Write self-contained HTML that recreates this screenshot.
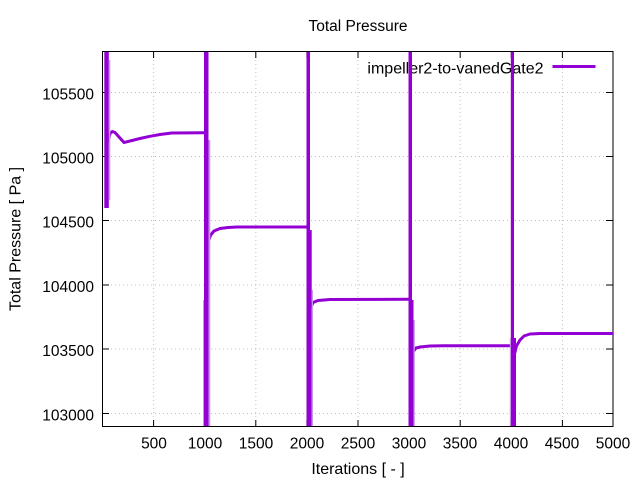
<!DOCTYPE html>
<html>
<head>
<meta charset="utf-8">
<style>
html,body{margin:0;padding:0;background:#fff;}
svg{display:block;}
text{font-family:"Liberation Sans",Arial,sans-serif;fill:#000;}
</style>
</head>
<body>
<svg width="640" height="480" viewBox="0 0 640 480" xmlns="http://www.w3.org/2000/svg">
<rect width="640" height="480" fill="#fff"/>

<!-- grid -->
<g stroke="#c0c0c0" stroke-width="1" stroke-dasharray="1 3" fill="none">
  <line x1="153.6" y1="52" x2="153.6" y2="426"/>
  <line x1="204.7" y1="52" x2="204.7" y2="426"/>
  <line x1="255.8" y1="52" x2="255.8" y2="426"/>
  <line x1="306.9" y1="52" x2="306.9" y2="426"/>
  <line x1="358" y1="52" x2="358" y2="426"/>
  <line x1="409.1" y1="52" x2="409.1" y2="426"/>
  <line x1="460.2" y1="52" x2="460.2" y2="426"/>
  <line x1="511.3" y1="52" x2="511.3" y2="426"/>
  <line x1="562.4" y1="52" x2="562.4" y2="426"/>
  <line x1="103" y1="92.5" x2="613" y2="92.5"/>
  <line x1="103" y1="156.5" x2="613" y2="156.5"/>
  <line x1="103" y1="220.5" x2="613" y2="220.5"/>
  <line x1="103" y1="285" x2="613" y2="285"/>
  <line x1="103" y1="349" x2="613" y2="349"/>
  <line x1="103" y1="413.5" x2="613" y2="413.5"/>
</g>

<!-- border -->
<rect x="102.5" y="51.5" width="510.5" height="375" fill="none" stroke="#000" stroke-width="1"/>

<!-- ticks -->
<g stroke="#000" stroke-width="1">
  <path d="M153.6 426V420M204.7 426V420M255.8 426V420M306.9 426V420M358 426V420M409.1 426V420M460.2 426V420M511.3 426V420M562.4 426V420"/>
  <path d="M153.6 52V58M204.7 52V58M255.8 52V58M306.9 52V58M358 52V58M409.1 52V58M460.2 52V58M511.3 52V58M562.4 52V58"/>
  <path d="M102.5 92.5H109M102.5 156.5H109M102.5 220.5H109M102.5 285H109M102.5 349H109M102.5 413.5H109"/>
  <path d="M613 92.5H606M613 156.5H606M613 220.5H606M613 285H606M613 349H606M613 413.5H606"/>
</g>

<!-- tick labels -->
<g font-size="15.5" text-anchor="end">
  <text x="94" y="99.5">105500</text>
  <text x="94" y="163.5">105000</text>
  <text x="94" y="227.5">104500</text>
  <text x="94" y="292">104000</text>
  <text x="94" y="356">103500</text>
  <text x="94" y="420.5">103000</text>
</g>
<g font-size="15.5" text-anchor="middle">
  <text x="154" y="448.5">500</text>
  <text x="205" y="448.5">1000</text>
  <text x="256" y="448.5">1500</text>
  <text x="307" y="448.5">2000</text>
  <text x="358" y="448.5">2500</text>
  <text x="409" y="448.5">3000</text>
  <text x="460" y="448.5">3500</text>
  <text x="511" y="448.5">4000</text>
  <text x="562" y="448.5">4500</text>
  <text x="613" y="448.5">5000</text>
</g>

<!-- titles -->
<text x="358" y="31" font-size="15.5" text-anchor="middle">Total Pressure</text>
<text x="358" y="474" font-size="16" text-anchor="middle">Iterations [ - ]</text>
<text transform="translate(20.5 239) rotate(-90)" font-size="16" text-anchor="middle">Total Pressure [ Pa ]</text>

<!-- legend -->
<text x="543.5" y="73.5" font-size="16" text-anchor="end">impeller2-to-vanedGate2</text>
<line x1="552.5" y1="66.5" x2="595.5" y2="66.5" stroke="#9400d3" stroke-width="3"/>

<!-- series -->
<g fill="none" stroke="#9400d3" stroke-width="3" stroke-linejoin="round">
  <polyline points="108,142 110,133.5 112.3,131.5 115,132.5 119,137 124,142.5 130,141 140,138.5 150,136.3 160,134.5 171.7,133 204,132.7"/>
  <polyline points="208,242 210.7,235 214,231 220,228.5 228,227.5 237,227 308,227"/>
  <polyline points="311,307 313,302.5 318,300.5 330,299.5 409,299.3"/>
  <polyline points="413,352 416,348 420,347 430,346 443,345.8 511,345.8"/>
  <polyline points="514,356 516.5,346 520,340 524,336 530,334 540,333.5 613,333.5"/>
</g>

<!-- spikes -->
<g fill="#9400d3">
  <rect x="104.3" y="52" width="4.5" height="156"/>
  <rect x="204" y="52" width="4.5" height="374"/>
  <rect x="306.5" y="52" width="3.5" height="374"/>
  <rect x="310" y="230" width="1.7" height="196"/>
  <rect x="408.5" y="52" width="3.5" height="374"/>
  <rect x="412" y="300" width="1.5" height="126"/>
  <rect x="510.8" y="52" width="3.2" height="374"/>
  <rect x="514" y="338" width="2" height="88"/>
</g>
<g fill="#c79ae8">
  <rect x="108.8" y="60" width="1.5" height="140"/>
  <rect x="208.5" y="140" width="1.8" height="286"/>
  <rect x="203" y="300" width="1" height="126"/>
  <rect x="311.7" y="290" width="1.3" height="136"/>
  <rect x="413.5" y="320" width="1.3" height="106"/>
  <rect x="509.8" y="338" width="1" height="88"/>
</g>
</svg>
</body>
</html>
